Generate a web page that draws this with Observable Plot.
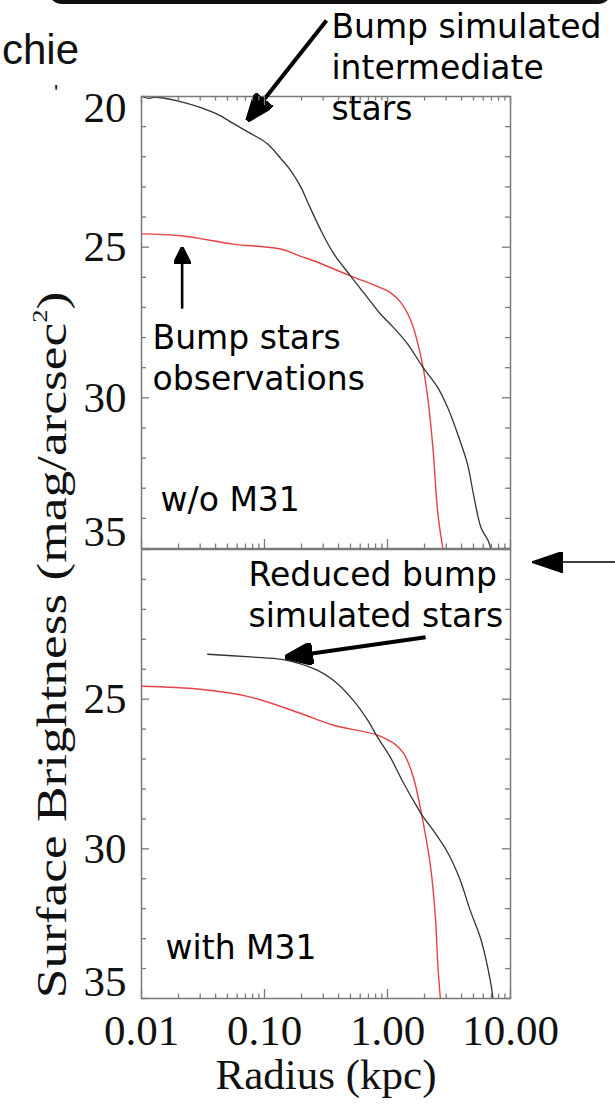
<!DOCTYPE html>
<html>
<head>
<meta charset="utf-8">
<script src="https://cdn.jsdelivr.net/npm/d3@7"></script>
<script src="https://cdn.jsdelivr.net/npm/@observablehq/plot@0.6"></script>
<style>
  html, body { margin: 0; padding: 0; background: #fff; }
  #wrap { position: relative; width: 615px; height: 1113px; overflow: hidden; background: #fff; }
  .panel { position: absolute; left: 0; }
  .panel svg { overflow: visible; display: block; }
  #ylabel { position: absolute; left: 52px; top: 645px; transform: translate(-50%, -50%) rotate(-90deg) scaleX(1.27);
            white-space: nowrap; font-family: "Liberation Serif", serif; font-size: 42px; color: #111; }
  #ylabel sup { font-size: 21px; position: relative; top: -4px; }
  #frag { position: absolute; left: 2px; top: 28px; font-family: "Liberation Sans", Arial, sans-serif;
          font-size: 42px; line-height: 44px; color: #111; }
  #frag2 { position: absolute; left: 54px; top: 86px; font-family: "Liberation Sans", Arial, sans-serif;
          font-size: 22px; line-height: 14px; color: #111; }
  #boxedge { position: absolute; left: 48px; top: -30px; width: 552px; height: 28px;
             border: 6px solid #111; border-top: none; border-radius: 0 0 14px 14px; }
</style>
</head>
<body>
<div id="wrap">
  <div id="boxedge"></div>
  <div id="frag">chie</div>
  <div id="frag2">'</div>
  <div id="ylabel">Surface Brightness (mag/arcsec<sup>2</sup>)</div>
</div>
<script>
// ---------------- data ----------------
// x axis (Radius, kpc, log) and y axis (Surface brightness, mag/arcsec^2)
const xDomain = [0.01, 10];
const yDomain = [20, 35];
const xTicksMajor = [0.01, 0.1, 1, 10];
const xTickLabels = ["0.01", "0.10", "1.00", "10.00"];
const xTicksMinor = [0.02, 0.03, 0.04, 0.05, 0.06, 0.07, 0.08, 0.09,
                     0.2, 0.3, 0.4, 0.5, 0.6, 0.7, 0.8, 0.9,
                     2, 3, 4, 5, 6, 7, 8, 9];
const yTicksMajor = [20, 25, 30, 35];
const yTicksMinor = [21, 22, 23, 24, 26, 27, 28, 29, 31, 32, 33, 34];
const topYLabels = [20, 25, 30, 35];
const bottomYLabels = [25, 30, 35];
const xTitle = "Radius (kpc)";

// Top panel (w/o M31): simulated intermediate bump stars (black)
const topSimR   = [0.0100, 0.0115, 0.0126, 0.0150, 0.0200, 0.0300, 0.0420, 0.0560, 0.0750, 0.1050,
                   0.1350, 0.1630, 0.2000, 0.2240, 0.2880, 0.3630, 0.5000, 0.6900, 0.8700, 1.1200,
                   1.4500, 1.9500, 2.5700, 3.0900, 3.7200, 4.4700, 5.0000, 5.7500, 6.6000, 6.9000];
const topSimMag = [20.00, 20.06, 20.03, 20.05, 20.15, 20.36, 20.60, 20.90, 21.20, 21.56,
                   22.05, 22.45, 23.05, 23.50, 24.45, 25.20, 25.95, 26.68, 27.20, 27.67,
                   28.20, 29.00, 29.67, 30.33, 31.20, 32.20, 33.20, 34.30, 34.75, 35.00];
// Top panel: bump stars observations (red)
const topObsR   = [0.0100, 0.0210, 0.0560, 0.1350, 0.1950, 0.2500, 0.5000, 0.8700, 1.0500, 1.2900,
                   1.5500, 1.7400, 1.9500, 2.1400, 2.3400, 2.5700, 2.8200];
const topObsMag = [24.56, 24.62, 24.90, 25.06, 25.30, 25.45, 25.95, 26.34, 26.50, 26.85,
                   27.44, 28.10, 29.00, 30.10, 31.66, 33.86, 35.00];

// Bottom panel (with M31): reduced bump simulated stars (black)
const botSimR   = [0.0345, 0.0770, 0.1420, 0.2680, 0.3630, 0.5250, 0.6900, 0.8300, 1.0500, 1.3500,
                   1.7400, 1.9500, 2.3400, 3.0900, 3.8900, 4.6800, 5.7500, 6.9000, 7.2000];
const botSimMag = [23.50, 23.59, 23.68, 24.03, 24.37, 25.03, 25.70, 26.27, 26.93, 27.80,
                   28.60, 28.93, 29.37, 30.13, 31.03, 32.03, 33.03, 34.47, 35.00];
// Bottom panel: bump stars observations (red)
const botObsR   = [0.0100, 0.0300, 0.0770, 0.1950, 0.3630, 0.8300, 1.1200, 1.3500, 1.6200, 1.9100,
                   2.2400, 2.4500, 2.5700, 2.6900];
const botObsMag = [24.57, 24.67, 24.93, 25.47, 25.87, 26.20, 26.47, 26.80, 27.60, 28.93,
                   30.60, 32.27, 33.93, 35.00];

// Annotations (data coordinates: radius kpc, magnitude)
const topNotes = [
  {r: 0.350, mag: 17.08, text: "Bump simulated\nintermediate\nstars"},
  {r: 0.0123, mag: 27.40, text: "Bump stars\nobservations"},
  {r: 0.0143, mag: 32.78, text: "w/o M31"}
];
const bottomNotes = [
  {r: 0.0741, mag: 20.23, text: "Reduced bump\nsimulated stars"},
  {r: 0.0157, mag: 32.70, text: "with M31"}
];
const topArrows = [
  {r1: 0.319, m1: 17.48, r2: 0.0727, m2: 20.80, w: 4, head: "big"},
  {r1: 0.0214, m1: 27.04, r2: 0.0214, m2: 25.01, w: 2.6, head: "small"}
];
const bottomArrows = [
  {r1: 2.04, m1: 22.93, r2: 0.148, m2: 23.60, w: 4, head: "big"},
  {r1: 71.4, m1: 20.42, r2: 15.0, m2: 20.42, w: 1.5, head: "wide"}
];

// ---------------- drawing ----------------
const zip = (R, M) => R.map((r, i) => ({r, mag: M[i]}));
const frameColor = "#7a7a7a";
const serif = "Liberation Serif, Times New Roman, serif";
const sans = "DejaVu Sans, Verdana, sans-serif";
const W = 615, ML = 141, MR = 105;
const FW = W - ML - MR;

function headMarker(len, wid) {
  return (color) => {
    const m = d3.create("svg:marker")
      .attr("viewBox", `0 ${-wid / 2} ${len} ${wid}`)
      .attr("markerUnits", "userSpaceOnUse")
      .attr("markerWidth", len).attr("markerHeight", wid)
      .attr("refX", len - 0.5).attr("refY", 0)
      .attr("orient", "auto");
    m.append("path").attr("d", `M0,${-wid / 2}L${len},0L0,${wid / 2}Z`).attr("fill", color);
    return m.node();
  };
}
const heads = {big: headMarker(28, 22), small: headMarker(17, 17), wide: headMarker(31, 21)};

function panel({height, marginTop, marginBottom, sim, obs, yLabels, topTicks, notes, arrows, xAxis}) {
  const FH = height - marginTop - marginBottom;
  const marks = [
    Plot.line(obs, {x: "r", y: "mag", stroke: "#e64242", strokeWidth: 1.4, curve: "catmull-rom", clip: true}),
    Plot.line(sim, {x: "r", y: "mag", stroke: "#333333", strokeWidth: 1.3, curve: "catmull-rom", clip: true}),
    Plot.frame({stroke: frameColor, strokeWidth: 1.5}),
    // bottom x ticks (pointing up)
    Plot.ruleX(xTicksMajor, {x: d => d, insetTop: FH - 9, stroke: frameColor, strokeWidth: 1.3}),
    Plot.ruleX(xTicksMinor, {x: d => d, insetTop: FH - 4.5, stroke: frameColor, strokeWidth: 1.3}),
    // left & right y ticks
    Plot.ruleY(yTicksMajor, {y: d => d, insetRight: FW - 8, stroke: frameColor, strokeWidth: 1.3}),
    Plot.ruleY(yTicksMinor, {y: d => d, insetRight: FW - 5, stroke: frameColor, strokeWidth: 1.3}),
    Plot.ruleY(yTicksMajor, {y: d => d, insetLeft: FW - 8, stroke: frameColor, strokeWidth: 1.3}),
    Plot.ruleY(yTicksMinor, {y: d => d, insetLeft: FW - 5, stroke: frameColor, strokeWidth: 1.3}),
    // y tick labels
    Plot.text(yLabels.filter(v => v !== yDomain[0] && v !== yDomain[1]),
      {y: d => d, frameAnchor: "left", dx: -15, textAnchor: "end", fontFamily: serif, fontSize: 43, fill: "#111"}),
    Plot.text(yLabels.filter(v => v === yDomain[0]),
      {y: d => d, frameAnchor: "left", dx: -15, dy: 12, textAnchor: "end", fontFamily: serif, fontSize: 43, fill: "#111"}),
    Plot.text(yLabels.filter(v => v === yDomain[1]),
      {y: d => d, frameAnchor: "left", dx: -15, dy: -16, textAnchor: "end", fontFamily: serif, fontSize: 43, fill: "#111"}),
    // annotations
    Plot.text(notes, {x: "r", y: "mag", text: "text", textAnchor: "start", lineAnchor: "top",
      lineHeight: 1.25, fontFamily: sans, fontSize: 33, fill: "#000"}),
    ...arrows.map(a => Plot.link([a], {x1: "r1", y1: "m1", x2: "r2", y2: "m2",
      stroke: "#000", strokeWidth: a.w, markerEnd: heads[a.head]}))
  ];
  if (topTicks) {
    marks.push(
      Plot.ruleX(xTicksMajor, {x: d => d, insetBottom: FH - 9, stroke: frameColor, strokeWidth: 1.3}),
      Plot.ruleX(xTicksMinor, {x: d => d, insetBottom: FH - 4.5, stroke: frameColor, strokeWidth: 1.3})
    );
  }
  if (xAxis) {
    marks.push(
      Plot.text(xTicksMajor, {x: d => d, text: (d, i) => xTickLabels[i], frameAnchor: "bottom", dy: 46,
        fontFamily: serif, fontSize: 43, fill: "#111"}),
      Plot.text([xTitle], {frameAnchor: "bottom", dy: 90, fontFamily: serif, fontSize: 43, fill: "#111"})
    );
  }
  return Plot.plot({
    width: W, height, marginLeft: ML, marginRight: MR, marginTop, marginBottom,
    x: {type: "log", domain: xDomain, axis: null},
    y: {domain: yDomain, reverse: true, axis: null},
    style: {background: "transparent", overflow: "visible"},
    marks
  });
}

const wrap = document.getElementById("wrap");
function place(node, top) {
  const d = document.createElement("div");
  d.className = "panel";
  d.style.top = top + "px";
  d.appendChild(node);
  wrap.appendChild(d);
}

place(panel({height: 549, marginTop: 96, marginBottom: 1,
  sim: zip(topSimR, topSimMag), obs: zip(topObsR, topObsMag),
  yLabels: topYLabels, topTicks: true, notes: topNotes, arrows: topArrows, xAxis: false}), 0);
place(panel({height: 565, marginTop: 1, marginBottom: 115,
  sim: zip(botSimR, botSimMag), obs: zip(botObsR, botObsMag),
  yLabels: bottomYLabels, topTicks: false, notes: bottomNotes, arrows: bottomArrows, xAxis: true}), 548);
</script>
</body>
</html>
